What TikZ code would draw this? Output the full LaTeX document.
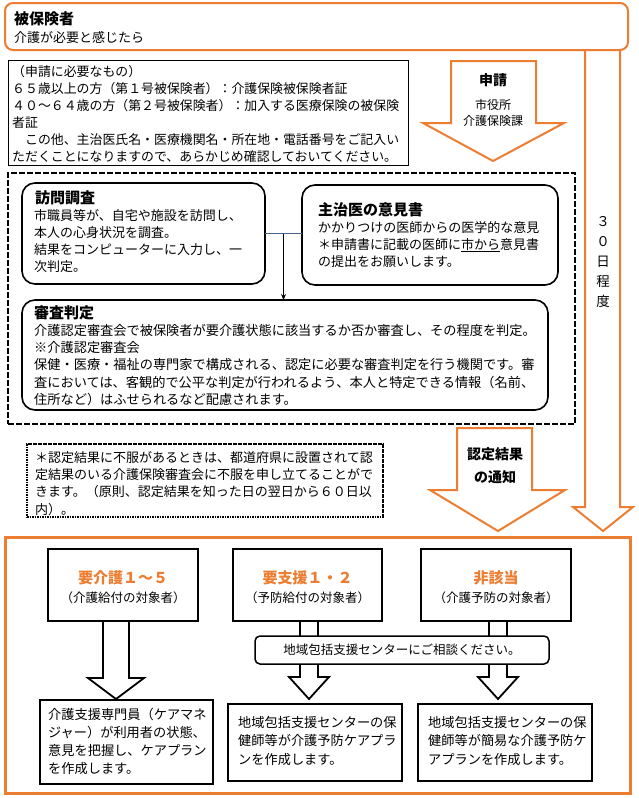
\documentclass[tikz,border=0pt]{standalone}
\usepackage{fontspec}
\setmainfont{Noto Sans CJK JP}
\usetikzlibrary{arrows.meta,calc}
\definecolor{orng}{RGB}{237,125,49}
\definecolor{lnk}{RGB}{70,100,140}
\begin{document}
\begin{tikzpicture}[x=1pt,y=-1pt,
  txt/.style={anchor=north west, inner sep=0pt, align=left, font=\fontsize{13}{17}\selectfont},
  ttl/.style={anchor=north west, inner sep=0pt, font=\bfseries\fontsize{15}{18}\selectfont},
  frame/.style={anchor=north west, inner sep=0pt, outer sep=0pt},
  obox/.style={frame, draw=orng, line width=2pt, rounded corners=8pt},
  rbox/.style={frame, draw=black, line width=1.6pt, rounded corners=13pt, fill=white},
  kbox/.style={frame, draw=black, line width=2.6pt, fill=white},
  oarrow/.style={draw=orng, line width=2pt, fill=white, line join=miter},
  karrow/.style={draw=black, line width=1.8pt, fill=white, line join=miter},
  otitle/.style={font=\bfseries\fontsize{15}{18}\selectfont, text=orng, inner sep=0pt},
  osub/.style={font=\fontsize{12.5}{16}\selectfont, inner sep=0pt},
]
\useasboundingbox (0,0) rectangle (638,798);
\fill[white] (0,0) rectangle (638,798);

% long 30-day arrow
\draw[oarrow] (585,50) -- (585,507) -- (573,507) -- (603,531) -- (633,507) -- (620,507) -- (620,50);
\node[inner sep=0pt, align=center, font=\fontsize{13.5}{20}\selectfont] (days) at (603,262) {３\\０\\日\\程\\度};

% top box
\node[obox, fill=white, minimum width=623pt, minimum height=47pt] (hiho) at (5,3) {};
\node[ttl] (hihot) at (14,11) {被保険者};
\node[txt] (hihos) at (14,31) {介護が必要と感じたら};

% requirements
\node[frame, draw=black, line width=1pt, minimum width=400pt, minimum height=105pt] (req) at (8,60) {};
\node[txt, font=\fontsize{12.9}{17}\selectfont] (reqt) at (12,65) {（申請に必要なもの）\\
６５歳以上の方（第１号被保険者）：介護保険被保険者証\\
４０～６４歳の方（第２号被保険者）：加入する医療保険の被保険\\
者証\\
　この他、主治医氏名・医療機関名・所在地・電話番号をご記入い\\
ただくことになりますので、あらかじめ確認しておいてください。};

% shinsei arrow
\draw[oarrow] (451,61) -- (536,61) -- (536,123) -- (564,123) -- (493,161) -- (423,123) -- (451,123) -- cycle;
\node[inner sep=0pt, font=\bfseries\fontsize{14}{16}\selectfont] (shinsei) at (493,80) {申請};
\node[inner sep=0pt, align=center, font=\fontsize{12}{16}\selectfont] (kacho) at (493,113) {市役所\\介護保険課};

% dashed frame
\node[frame, draw=black, line width=2.6pt, dash pattern=on 6pt off 2pt, minimum width=567pt, minimum height=251pt] (dbox) at (8,173) {};

\node[rbox, minimum width=243pt, minimum height=101pt] (houmon) at (22,183) {};
\node[ttl] (houmont) at (35,190) {訪問調査};
\node[txt] (houmons) at (34,209) {市職員等が、自宅や施設を訪問し、\\本人の心身状況を調査。\\結果をコンピューターに入力し、一\\次判定。};

\node[rbox, minimum width=256pt, minimum height=100pt] (shujii) at (302,185) {};
\node[ttl] (shujiit) at (318,202) {主治医の意見書};
\node[txt] (shujiis) at (318,221) {かかりつけの医師からの医学的な意見\\＊申請書に記載の医師に\underline{市から}意見書\\の提出をお願いします。};

\node[rbox, minimum width=526pt, minimum height=110pt] (shinsa) at (22,300) {};
\node[ttl] (shinsat) at (34,305) {審査判定};
\node[txt, font=\fontsize{13.2}{17.3}\selectfont] (shinsas) at (34,324) {介護認定審査会で被保険者が要介護状態に該当するか否か審査し、その程度を判定。\\
※介護認定審査会\\
保健・医療・福祉の専門家で構成される、認定に必要な審査判定を行う機関です。審\\
査においては、客観的で公平な判定が行われるよう、本人と特定できる情報（名前、\\
住所など）はふせられるなど配慮されます。};

\draw[lnk, line width=0.9pt] (houmon.east) -- (houmon.east -| shujii.west);
\coordinate (jn) at ($(houmon.east)!0.5!(houmon.east -| shujii.west)$);
\draw[line width=0.9pt, -{Stealth[length=6pt,width=5pt]}] (jn) -- (jn |- shinsa.north);

% note
\node[frame, draw=black, line width=2.6pt, dash pattern=on 1.6pt off 0.9pt, minimum width=356pt, minimum height=73pt] (note) at (27,444) {};
\node[txt, font=\fontsize{13}{17.3}\selectfont] (notet) at (35,451) {＊認定結果に不服があるときは、都道府県に設置されて認\\
定結果のいる介護保険審査会に不服を申し立てることがで\\
きます。（原則、認定結果を知った日の翌日から６０日以\\
内）。};

% result arrow
\draw[oarrow] (457,428) -- (532,428) -- (532,490) -- (565,490) -- (498,531) -- (430,490) -- (457,490) -- cycle;
\node[inner sep=0pt, align=center, font=\bfseries\fontsize{14}{23}\selectfont] (kekka) at (495,466) {認定結果\\の通知};

% bottom frame
\node[frame, draw=orng, line width=3pt, minimum width=625pt, minimum height=256pt] (bot) at (5,537) {};

% arrows in bottom
\draw[karrow] (103,621) -- (103,678) -- (88,678) -- (116,699) -- (144,678) -- (129,678) -- (129,621);
\draw[line width=1.5pt] (300,621) -- (300,636);
\draw[line width=1.5pt] (318,621) -- (318,636);
\draw[line width=1.5pt] (489,621) -- (489,636);
\draw[line width=1.5pt] (507,621) -- (507,636);
\draw[karrow] (300,664) -- (300,677) -- (289,677) -- (309,699) -- (329,677) -- (318,677) -- (318,664);
\draw[karrow] (489,664) -- (489,677) -- (478,677) -- (498,699) -- (518,677) -- (507,677) -- (507,664);

\node[kbox, minimum width=150pt, minimum height=72pt] (b1) at (48,549) {};
\node[kbox, minimum width=149pt, minimum height=72pt] (b2) at (233,549) {};
\node[kbox, minimum width=150pt, minimum height=72pt] (b3) at (421,549) {};
\node[otitle] (b1t) at (123,578) {要介護１～５};
\node[osub] (b1s) at (123,598) {（介護給付の対象者）};
\node[otitle] (b2t) at (307.5,578) {要支援１・２};
\node[osub] (b2s) at (307.5,598) {（予防給付の対象者）};
\node[otitle] (b3t) at (496,578) {非該当};
\node[osub] (b3s) at (496,598) {（介護予防の対象者）};

\node[frame, draw=black, line width=1.5pt, rounded corners=5pt, fill=white, minimum width=294pt, minimum height=28pt] (soudan) at (255,636) {};
\node[inner sep=0pt, font=\fontsize{12.5}{16}\selectfont] (soudant) at (soudan.center) {地域包括支援センターにご相談ください。};

\node[kbox, minimum width=173pt, minimum height=84pt] (l1) at (40,700) {};
\node[kbox, minimum width=174pt, minimum height=77pt] (l2) at (228,704) {};
\node[kbox, minimum width=174pt, minimum height=77pt] (l3) at (418,704) {};
\node[txt, font=\fontsize{13.2}{18}\selectfont] (l1t) at (48,708) {介護支援専門員（ケアマネ\\ジャー）が利用者の状態、\\意見を把握し、ケアプラン\\を作成します。};
\node[txt, font=\fontsize{13.2}{18.5}\selectfont] (l2t) at (238,716) {地域包括支援センターの保\\健師等が介護予防ケアプラ\\ンを作成します。};
\node[txt, font=\fontsize{13.2}{18.5}\selectfont] (l3t) at (428,716) {地域包括支援センターの保\\健師等が簡易な介護予防ケ\\アプランを作成します。};
\end{tikzpicture}
\end{document}
